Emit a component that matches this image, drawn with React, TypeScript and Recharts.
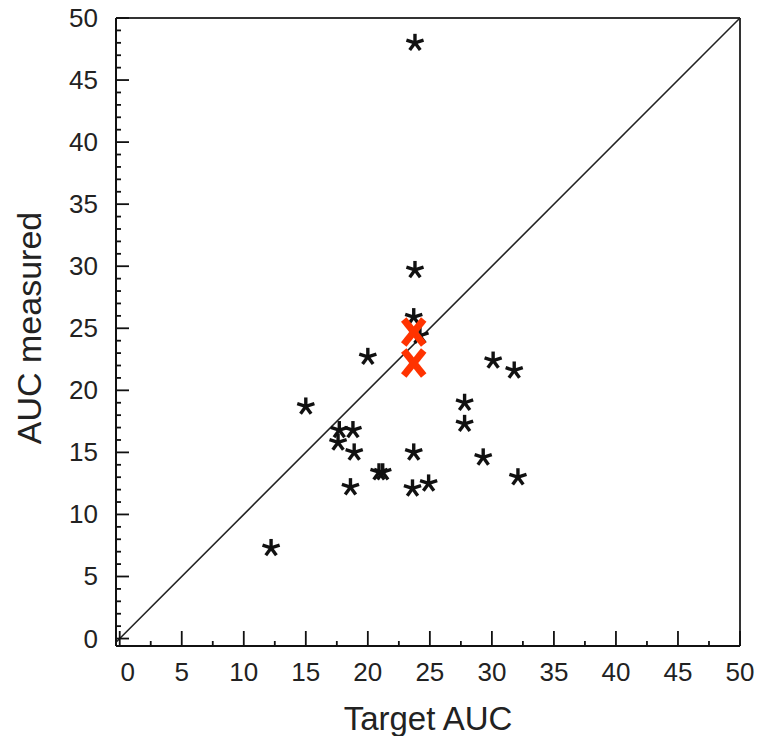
import React from "react"
import { ReferenceLine, Scatter, ScatterChart, XAxis, YAxis } from "recharts"

// target vs measured AUC, one star per patient
const targetAuc = [23.8, 23.8, 23.7, 24.2, 20.0, 15.0, 17.7, 18.8, 17.6, 18.9, 18.6, 20.9, 21.2, 23.7, 23.6, 24.9, 27.8, 27.8, 30.1, 31.8, 29.3, 32.1, 12.2]
const measuredAuc = [48.0, 29.7, 25.9, 24.4, 22.7, 18.7, 16.8, 16.8, 15.8, 15.0, 12.2, 13.4, 13.4, 15.0, 12.1, 12.5, 19.0, 17.3, 22.4, 21.6, 14.6, 13.0, 7.3]

// highlighted cases (red X)
const highlightTarget = [23.7, 23.7]
const highlightMeasured = [24.7, 22.2]

const majorTicks = [0, 5, 10, 15, 20, 25, 30, 35, 40, 45, 50]
const yMinorTicks = Array.from({ length: 51 }, (_, i) => i)
const xMinorTicks = Array.from({ length: 21 }, (_, i) => i * 2.5)

const stars = targetAuc.map((x, i) => ({ x, y: measuredAuc[i] }))
const highlights = highlightTarget.map((x, i) => ({ x, y: highlightMeasured[i] }))

const FONT = "'Liberation Sans', Arial, Helvetica, sans-serif"
const INK = "#111"

function Asterisk({ cx, cy }: any) {
  const r = 9
  const arms = [0, 1, 2, 3, 4].map((k) => {
    const a = (-90 + k * 72) * (Math.PI / 180)
    return <line key={k} x1={cx} y1={cy} x2={cx + r * Math.cos(a)} y2={cy + r * Math.sin(a)} />
  })
  return (
    <g stroke={INK} strokeWidth={3.4} strokeLinecap="butt">
      {arms}
    </g>
  )
}

function RedX({ cx, cy }: any) {
  const w = 10
  const h = 12.5
  return (
    <g stroke="#ff3300" strokeWidth={7}>
      <line x1={cx - w} y1={cy - h} x2={cx + w} y2={cy + h} />
      <line x1={cx + w} y1={cy - h} x2={cx - w} y2={cy + h} />
    </g>
  )
}

function YTick({ x, y, payload }: any) {
  const major = majorTicks.includes(payload.value)
  return (
    <g>
      <line x1={x} y1={y} x2={x + (major ? 13 : 5)} y2={y} stroke={INK} strokeWidth={1.8} />
      {major && (
        <text x={x - 18} y={y + 9} textAnchor="end" fontSize={26} fill="#222" fontFamily={FONT}>
          {payload.value}
        </text>
      )}
    </g>
  )
}

function XTick({ x, y, payload }: any) {
  const major = majorTicks.includes(payload.value)
  return (
    <g>
      <line x1={x} y1={y} x2={x} y2={y - (major ? 15 : 5)} stroke={INK} strokeWidth={1.8} />
      {major && (
        <text x={x + (payload.value === 0 ? 8 : 0)} y={y + 35} textAnchor="middle" fontSize={26} fill="#222" fontFamily={FONT}>
          {payload.value}
        </text>
      )}
    </g>
  )
}

export default function App() {
  return (
    <div style={{ position: "absolute", left: 0, top: 0, background: "#fff" }}>
      <ScatterChart width={761} height={736} margin={{ top: 18, right: 21, left: 0, bottom: 0 }}>
        <XAxis
          type="number"
          dataKey="x"
          domain={[-0.3, 50]}
          ticks={xMinorTicks}
          interval={0}
          tickSize={0}
          tickMargin={0}
          tickLine={false}
          tick={<XTick />}
          height={90}
          axisLine={{ stroke: INK, strokeWidth: 2 }}
          allowDataOverflow
          label={{
            content: ({ viewBox }: any) => (
              <text
                x={viewBox.x + viewBox.width / 2}
                y={viewBox.y + 84}
                textAnchor="middle"
                fontSize={33}
                fill="#222"
                fontFamily={FONT}
              >
                Target AUC
              </text>
            ),
          }}
        />
        <YAxis
          type="number"
          dataKey="y"
          domain={[-0.6, 50]}
          ticks={yMinorTicks}
          interval={0}
          tickSize={0}
          tickMargin={0}
          tickLine={false}
          tick={<YTick />}
          width={116}
          axisLine={{ stroke: INK, strokeWidth: 2 }}
          allowDataOverflow
          label={{
            content: ({ viewBox }: any) => {
              const cx = viewBox.x + 41
              const cy = viewBox.y + viewBox.height / 2 - 4
              return (
                <text
                  x={cx}
                  y={cy}
                  transform={`rotate(-90 ${cx} ${cy})`}
                  textAnchor="middle"
                  fontSize={34}
                  fill="#222"
                  fontFamily={FONT}
                >
                  AUC measured
                </text>
              )
            },
          }}
        />
        <ReferenceLine y={50} stroke="#333" strokeWidth={2} />
        <ReferenceLine x={50} stroke="#333" strokeWidth={2} />
        <ReferenceLine
          segment={[
            { x: -0.3, y: -0.3 },
            { x: 50, y: 50 },
          ]}
          stroke="#222"
          strokeWidth={1.6}
        />
        <Scatter data={stars} shape={<Asterisk />} isAnimationActive={false} />
        <Scatter data={highlights} shape={<RedX />} isAnimationActive={false} />
      </ScatterChart>
    </div>
  )
}
